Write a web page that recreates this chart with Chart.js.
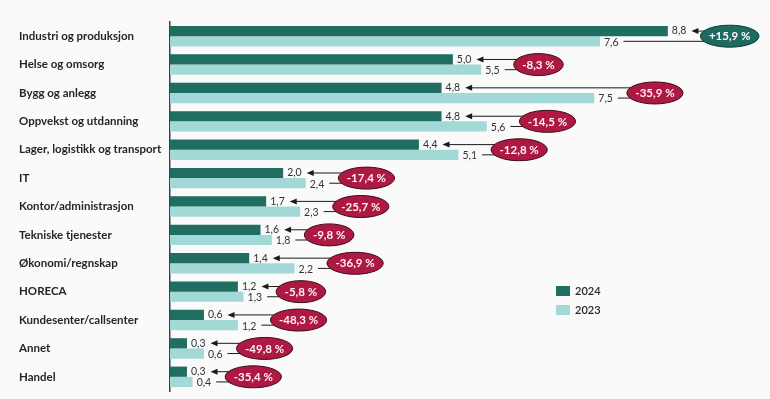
<!DOCTYPE html>
<html>
<head>
<meta charset="utf-8">
<script src="https://cdn.jsdelivr.net/npm/chart.js@4.4.1/dist/chart.umd.min.js"></script>
<style>
  html, body { margin: 0; padding: 0; background: #fafafa; }
  #wrap { width: 770px; height: 399px; position: relative; }
</style>
</head>
<body>
<div id="wrap"><canvas id="c" width="770" height="399"></canvas></div>
<script>
// ---- data ----
const categories = [
  'Industri og produksjon', 'Helse og omsorg', 'Bygg og anlegg', 'Oppvekst og utdanning',
  'Lager, logistikk og transport', 'IT', 'Kontor/administrasjon', 'Tekniske tjenester',
  'Økonomi/regnskap', 'HORECA', 'Kundesenter/callsenter', 'Annet', 'Handel'
];
const values2024 = [8.8, 5.0, 4.8, 4.8, 4.4, 2.0, 1.7, 1.6, 1.4, 1.2, 0.6, 0.3, 0.3];
const values2023 = [7.6, 5.5, 7.5, 5.6, 5.1, 2.4, 2.3, 1.8, 2.2, 1.3, 1.2, 0.6, 0.4];
const changeLabels = ['+15,9 %', '-8,3 %', '-35,9 %', '-14,5 %', '-12,8 %', '-17,4 %', '-25,7 %',
  '-9,8 %', '-36,9 %', '-5,8 %', '-48,3 %', '-49,8 %', '-35,4 %'];
const seriesNames = ['2024', '2023'];

const C2024 = '#1f6e61';
const C2023 = '#a2d8d6';
const RED = '#ad1942';
const TEAL = '#1d6a60';
const fmt = v => v.toFixed(1).replace('.', ',');

const annot = {
  id: 'annot',
  afterDatasetsDraw(chart) {
    const ctx = chart.ctx;
    const m0 = chart.getDatasetMeta(0), m1 = chart.getDatasetMeta(1);
    ctx.save();
    ctx.textBaseline = 'middle';
    categories.forEach((cat, i) => {
      const e0 = m0.data[i], e1 = m1.data[i];
      ctx.font = '400 10.5px Lato';
      ctx.fillStyle = '#333333';
      ctx.textAlign = 'left';
      const t0 = fmt(values2024[i]), t1 = fmt(values2023[i]);
      ctx.fillText(t0, e0.x + 4, e0.y);
      ctx.fillText(t1, e1.x + 4, e1.y + 1);
      const end0 = e0.x + 4 + ctx.measureText(t0).width;
      const end1 = e1.x + 4 + ctx.measureText(t1).width;
      ctx.font = '700 11.5px Lato';
      const txt = changeLabels[i];
      const tw = ctx.measureText(txt).width;
      const rx = (tw + 17) / 2, ry = 11;
      const left = Math.max(end0, end1) + 14;
      const cx = left + rx, cy = (e0.y + e1.y) / 2;
      const edge = dy => cx - rx * Math.sqrt(Math.max(0, 1 - (dy * dy) / (ry * ry)));
      ctx.strokeStyle = '#1a1a1a';
      ctx.fillStyle = '#1a1a1a';
      ctx.lineWidth = 1;
      // arrow to 2024 label
      const tip = end0 + 5;
      ctx.beginPath();
      ctx.moveTo(edge(e0.y - cy) + 1, e0.y);
      ctx.lineTo(tip + 5, e0.y);
      ctx.stroke();
      ctx.beginPath();
      ctx.moveTo(tip, e0.y);
      ctx.lineTo(tip + 7, e0.y - 3);
      ctx.lineTo(tip + 7, e0.y + 3);
      ctx.closePath();
      ctx.fill();
      // line from 2023 label
      ctx.beginPath();
      ctx.moveTo(end1 + 5, e1.y);
      ctx.lineTo(edge(e1.y - cy) + 1, e1.y);
      ctx.stroke();
      // badge
      const pos = txt.trim().startsWith('+');
      ctx.beginPath();
      ctx.ellipse(cx, cy, rx, ry, 0, 0, Math.PI * 2);
      ctx.fillStyle = pos ? TEAL : RED;
      ctx.fill();
      ctx.strokeStyle = pos ? '#0e3a34' : '#3a0c18';
      ctx.lineWidth = 1;
      ctx.stroke();
      ctx.fillStyle = pos ? '#ffffff' : '#fff0f5';
      ctx.textAlign = 'center';
      ctx.fillText(txt, cx, cy + 0.5);
    });
    // legend
    const lx = chart.chartArea.left + 386;
    const ly = chart.chartArea.top + 264;
    [C2024, C2023].forEach((col, k) => {
      const y = ly + k * 19;
      ctx.fillStyle = col;
      ctx.fillRect(lx, y, 14, 10);
      ctx.fillStyle = '#262626';
      ctx.font = '600 11px Lato';
      ctx.textAlign = 'left';
      ctx.fillText(seriesNames[k], lx + 19, y + 5.5);
    });
    ctx.restore();
  }
};

new Chart(document.getElementById('c'), {
  type: 'bar',
  data: {
    labels: categories,
    datasets: [
      { label: seriesNames[0], data: values2024, backgroundColor: C2024, barPercentage: 1, categoryPercentage: 0.72 },
      { label: seriesNames[1], data: values2023, backgroundColor: C2023, barPercentage: 1, categoryPercentage: 0.72 }
    ]
  },
  options: {
    indexAxis: 'y',
    responsive: false,
    animation: false,
    layout: { padding: { left: 19, right: 6, top: 22, bottom: 8 } },
    plugins: { legend: { display: false }, tooltip: { enabled: false } },
    scales: {
      x: { display: false, min: 0, max: 10.5 },
      y: {
        grid: { display: false, drawTicks: false },
        border: { display: true, color: '#35453f', width: 1.5 },
        ticks: {
          crossAlign: 'far',
          padding: 8,
          color: '#262626',
          font: { family: 'Lato', size: 11.5, weight: '700' }
        },
        afterFit(scale) {
          scale.width = 151;
          scale.paddingTop = 0;
          scale.paddingBottom = 0;
        }
      }
    }
  },
  plugins: [annot]
});
</script>
</body>
</html>
